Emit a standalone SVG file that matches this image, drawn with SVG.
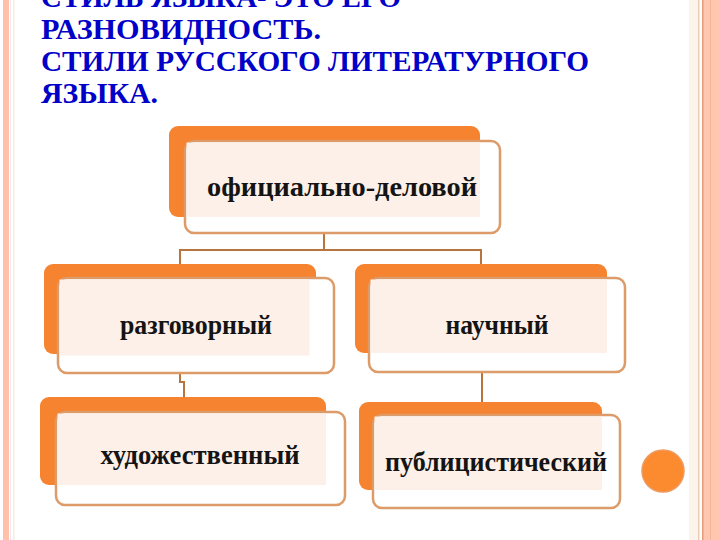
<svg xmlns="http://www.w3.org/2000/svg" width="720" height="540" viewBox="0 0 720 540">
<style>
.title{font-family:"Liberation Serif","Times New Roman",serif;font-weight:bold;font-size:29px;fill:#0000C8}
.back{fill:#F5832F}
.front{fill:#FFFFFF;stroke:#DC9B68;stroke-width:2.5}
.cream{fill:#FCF0E8}
.lbl{font-family:"Liberation Serif","Times New Roman",serif;font-weight:bold;font-size:27px;fill:#141414;text-anchor:middle}
.conn{fill:none;stroke:#B8743E;stroke-width:2}
</style>
<rect x="0" y="0" width="720" height="540" fill="#FFFFFF"/>
<g id="border">
<rect x="3" y="0" width="6" height="540" fill="#FFC2A8"/>
<rect x="10" y="0" width="1" height="540" fill="#F3E4F0"/>
<rect x="13" y="0" width="1.5" height="540" fill="#F8EED8"/>
<rect x="689" y="0" width="9" height="540" fill="#FCF3EA"/>
<rect x="698" y="0" width="1.5" height="540" fill="#E9CDB6"/>
<rect x="702" y="0" width="18" height="540" fill="#FFC6B0"/>
<rect x="702" y="0" width="1.5" height="540" fill="#E79A78"/>
<rect x="710" y="0" width="1" height="540" fill="#F7B49A"/>
</g>
<g id="title">
<text class="title" x="41" y="7" textLength="360" lengthAdjust="spacingAndGlyphs">СТИЛЬ ЯЗЫКА- ЭТО ЕГО</text>
<text class="title" x="41" y="39" textLength="280" lengthAdjust="spacingAndGlyphs">РАЗНОВИДНОСТЬ.</text>
<text class="title" x="41" y="71" textLength="548" lengthAdjust="spacingAndGlyphs">СТИЛИ РУССКОГО ЛИТЕРАТУРНОГО</text>
<text class="title" x="41" y="103" textLength="117" lengthAdjust="spacingAndGlyphs">ЯЗЫКА.</text>
</g>
<g id="connectors">
<path class="conn" d="M324,233 V250 M180,266 V250 H481 V266"/>
<path class="conn" d="M180,373 V382 H184 V397"/>
<path class="conn" d="M482,372 V402"/>
</g>
<g id="node-official">
<rect class="back" x="169" y="126" width="311" height="91" rx="9"/>
<rect class="front" x="185" y="141" width="315" height="92" rx="9"/>
<rect class="cream" x="186.5" y="142.5" width="293.5" height="74.5"/>
<text class="lbl" x="342" y="196" textLength="270" lengthAdjust="spacingAndGlyphs">официально-деловой</text>
</g>
<g id="node-colloquial">
<rect class="back" x="44" y="264" width="272" height="90" rx="9"/>
<rect class="front" x="58" y="278" width="276" height="95" rx="9"/>
<rect class="cream" x="59.5" y="279.5" width="250" height="76"/>
<text class="lbl" x="196" y="334" textLength="152" lengthAdjust="spacingAndGlyphs">разговорный</text>
</g>
<g id="node-scientific">
<rect class="back" x="355" y="264" width="252" height="89" rx="9"/>
<rect class="front" x="369" y="278" width="256" height="94" rx="9"/>
<rect class="cream" x="370.5" y="279.5" width="236.5" height="73.5"/>
<text class="lbl" x="497" y="334" textLength="103" lengthAdjust="spacingAndGlyphs">научный</text>
</g>
<g id="node-artistic">
<rect class="back" x="40" y="397" width="286" height="88" rx="9"/>
<rect class="front" x="56" y="412" width="289" height="93" rx="9"/>
<rect class="cream" x="57.5" y="413.5" width="268.5" height="71.5"/>
<text class="lbl" x="200" y="464" textLength="199" lengthAdjust="spacingAndGlyphs">художественный</text>
</g>
<g id="node-publicistic">
<rect class="back" x="359" y="402" width="243" height="88" rx="9"/>
<rect class="front" x="373" y="415" width="247" height="93" rx="9"/>
<rect class="cream" x="374.5" y="416.5" width="227.5" height="73.5"/>
<text class="lbl" x="496" y="471" textLength="222" lengthAdjust="spacingAndGlyphs">публицистический</text>
</g>
<g id="dot">
<circle cx="663" cy="471" r="21" fill="#FC8A2E" stroke="#EE9A60" stroke-width="1.5"/>
</g>
</svg>
